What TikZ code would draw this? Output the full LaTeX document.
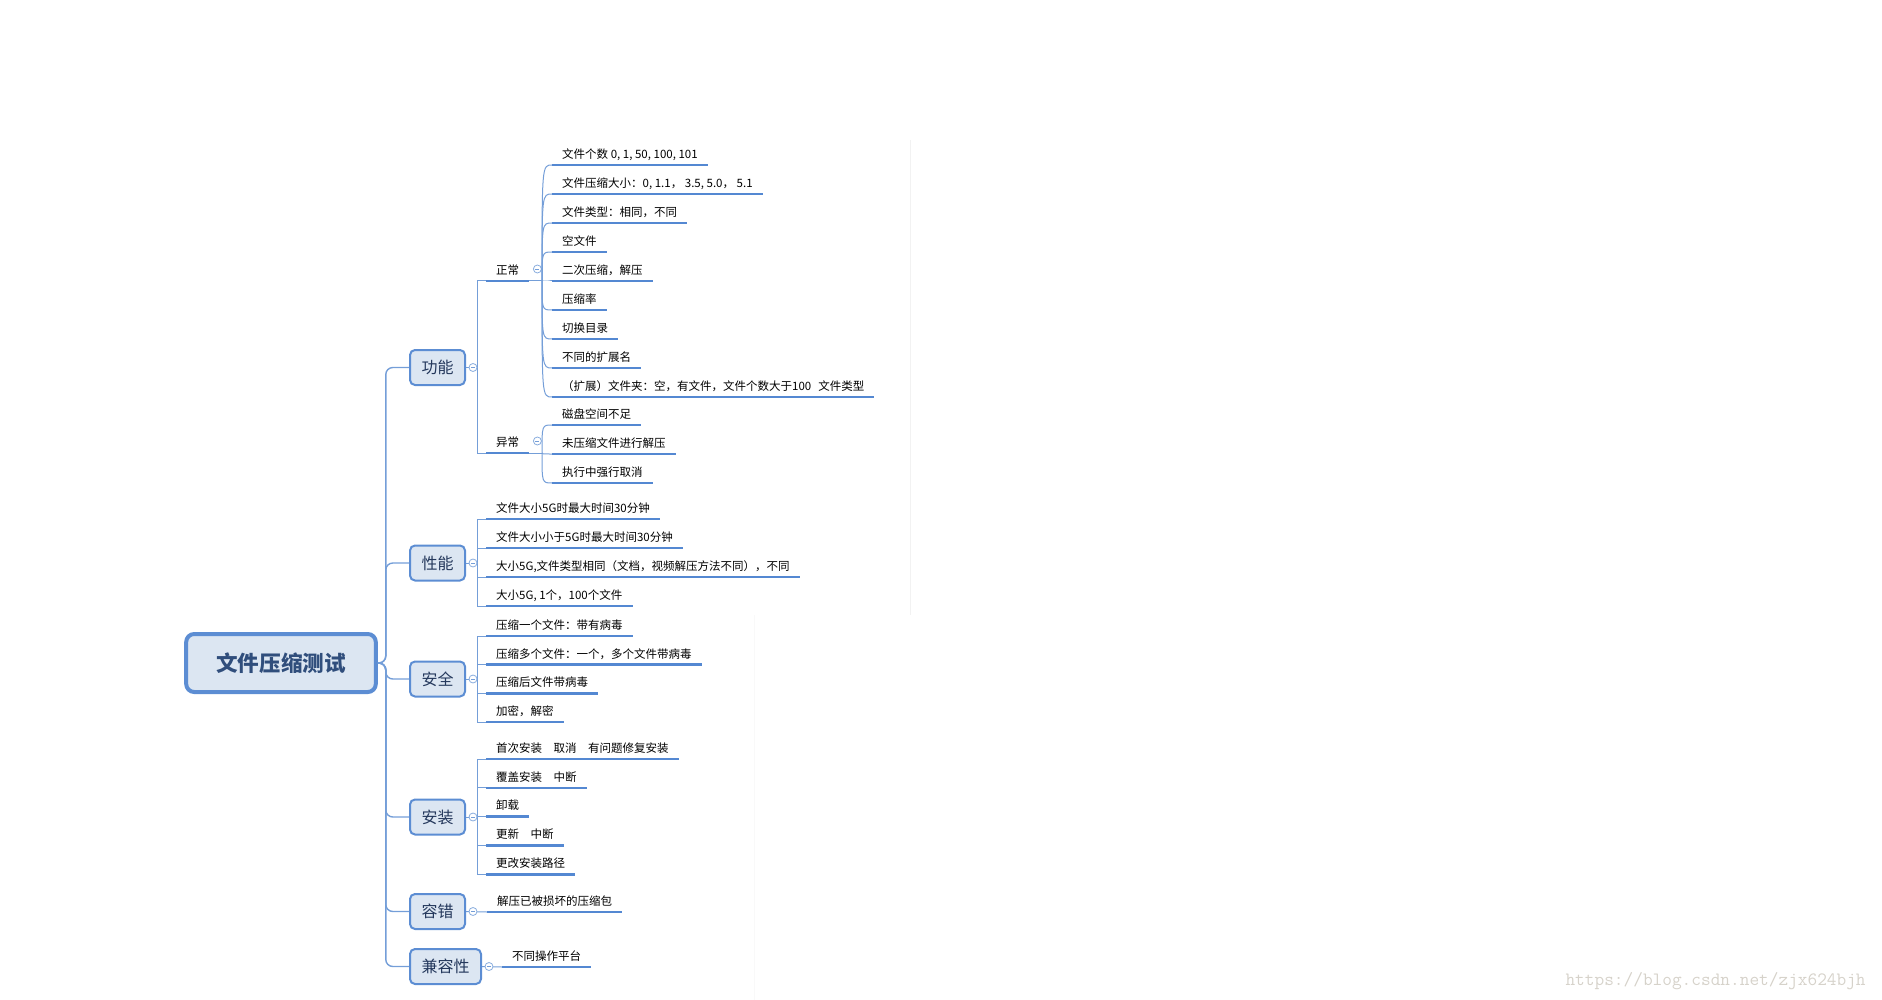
\documentclass[tikz,border=0pt]{standalone}
\usepackage{fontspec}
\setmainfont{Noto Sans CJK SC}
\usepackage{xcolor}
\definecolor{uline}{RGB}{84,136,210}
\definecolor{twig}{RGB}{116,158,216}
\definecolor{boxfill}{RGB}{220,230,242}
\definecolor{boxline}{RGB}{92,141,211}
\definecolor{topictext}{RGB}{36,56,92}
\definecolor{roottext}{RGB}{48,78,124}
\definecolor{mark}{RGB}{214,210,202}
\tikzset{
        leaf/.style={anchor=south west, inner xsep=10pt, inner ysep=6.5pt, text height=9pt, text depth=0pt, font=\fontsize{11.5}{12}\selectfont},
        under/.style={line width=2.6pt, uline},
        branch/.style={line width=1pt, twig},
        trunk/.style={line width=1.4pt, twig, rounded corners=7pt},
        topic/.style={anchor=west, draw=boxline, line width=2pt, fill=boxfill, rounded corners=5pt, minimum height=35pt, inner xsep=11.5pt, text height=12.2pt, text depth=0pt, text=topictext, font=\fontsize{16}{17}\selectfont},
        fold/.style={circle, draw=twig!85, fill=white, line width=0.8pt, minimum size=8pt, inner sep=0pt,
                path picture={\draw[twig, line width=0.7pt] ([xshift=-2pt]path picture bounding box.center) -- ([xshift=2pt]path picture bounding box.center);}}
}

\begin{document}
\begin{tikzpicture}[x=1pt,y=-1pt]
        \useasboundingbox (0,0) rectangle (1882,1000);
        \draw[black!5] (910,140) -- (910,615);
        \draw[black!2.5] (754,615) -- (754,1000);

        % root and main topics
        \node[draw=boxline, line width=4pt, fill=boxfill, rounded corners=8pt, minimum height=58pt, inner xsep=30pt,
              text height=16.4pt, text depth=0pt, text=roottext, font=\fontsize{21.6}{23}\selectfont\bfseries]
              (root) at (281,663) {文件压缩测试};
        \node[topic] (gn) at (409,367.5) {功能};
        \node[topic] (xn) at (409,563) {性能};
        \node[topic] (aq) at (409,679) {安全};
        \node[topic] (az) at (409,817) {安装};
        \node[topic] (rc) at (409,911.5) {容错};
        \node[topic] (jr) at (409,966.5) {兼容性};
        \foreach \c in {gn,xn,aq,az,rc,jr}{
            \draw[trunk] (root.east) -- ++(8,0) |- (\c.west);
        }

        % 功能
        \node[leaf] (zc) at (486,281) {正常};
        \node[leaf] (yc) at (486,453) {异常};
        \foreach \s in {zc,yc}{
            \draw[branch] (gn.east) -- ++(11,0) |- (\s.south west);
            \draw[under] (\s.south west) -- (\s.south east);
            \node[fold] at ([xshift=8pt,yshift=12pt]\s.south east) {};
        }
        \coordinate (zo) at (542,281);
        \coordinate (yo) at (542,453);
        \draw[branch] (zc.south east) -- (zo);
        \draw[branch] (yc.south east) -- (yo);
        \foreach \t [count=\i] in {{文件个数 0, 1, 50, 100, 101},{文件压缩大小：0, 1.1，\ 3.5, 5.0，\ 5.1},{文件类型：相同，不同},{空文件},{二次压缩，解压},{压缩率},{切换目录},{不同的扩展名},{（扩展）文件夹：空，有文件，文件个数大于100\hspace{0.6em}文件类型}}{
            \node[leaf] (z\i) at (552,{165+29*(\i-1)}) {\t};
            \draw[branch] (zo) .. controls (zo |- z\i.south west) .. (z\i.south west);
            \draw[under] (z\i.south west) -- (z\i.south east);
        }
        \foreach \t [count=\i] in {磁盘空间不足,未压缩文件进行解压,执行中强行取消}{
            \node[leaf] (y\i) at (552,{425+29*(\i-1)}) {\t};
            \draw[branch] (yo) .. controls (yo |- y\i.south west) .. (y\i.south west);
            \draw[under] (y\i.south west) -- (y\i.south east);
        }

        % 性能
        \foreach \t [count=\i] in {文件大小5G时最大时间30分钟,文件大小小于5G时最大时间30分钟,{大小5G,文件类型相同（文档，视频解压方法不同），不同},{大小5G, 1个，100个文件}}{
            \node[leaf] (x\i) at (486,{519+29*(\i-1)}) {\t};
            \draw[branch] (xn.east) -- ++(11,0) |- (x\i.south west);
            \draw[under] (x\i.south west) -- (x\i.south east);
        }

        % 安全
        \foreach \t [count=\i] in {压缩一个文件：带有病毒,压缩多个文件：一个，多个文件带病毒,压缩后文件带病毒,加密，解密}{
            \node[leaf] (a\i) at (486,{636+28.7*(\i-1)}) {\t};
            \draw[branch] (aq.east) -- ++(11,0) |- (a\i.south west);
            \draw[under] (a\i.south west) -- (a\i.south east);
        }

        % 安装
        \foreach \t [count=\i] in {首次安装\hspace{1em}取消\hspace{1em}有问题修复安装,覆盖安装\hspace{1em}中断,卸载,更新\hspace{1em}中断,更改安装路径}{
            \node[leaf] (b\i) at (486,{759+28.8*(\i-1)}) {\t};
            \draw[branch] (az.east) -- ++(11,0) |- (b\i.south west);
            \draw[under] (b\i.south west) -- (b\i.south east);
        }

        % 容错, 兼容性
        \node[leaf] (r1) at (487,912) {解压已被损坏的压缩包};
        \draw[branch] (rc.east) -- (r1.south west);
        \draw[under] (r1.south west) -- (r1.south east);
        \node[leaf] (j1) at (502,967) {不同操作平台};
        \draw[branch] (jr.east) -- (j1.south west);
        \draw[under] (j1.south west) -- (j1.south east);

        \foreach \c in {gn,xn,aq,az,rc,jr}{
            \node[fold] at ([xshift=7pt]\c.east) {};
        }

        \node[anchor=west, text=mark, font=\ttfamily\fontsize{18.8}{20}\selectfont] (wm) at (1562,981) {https://blog.csdn.net/zjx624bjh};
    \end{tikzpicture}
\end{document}
